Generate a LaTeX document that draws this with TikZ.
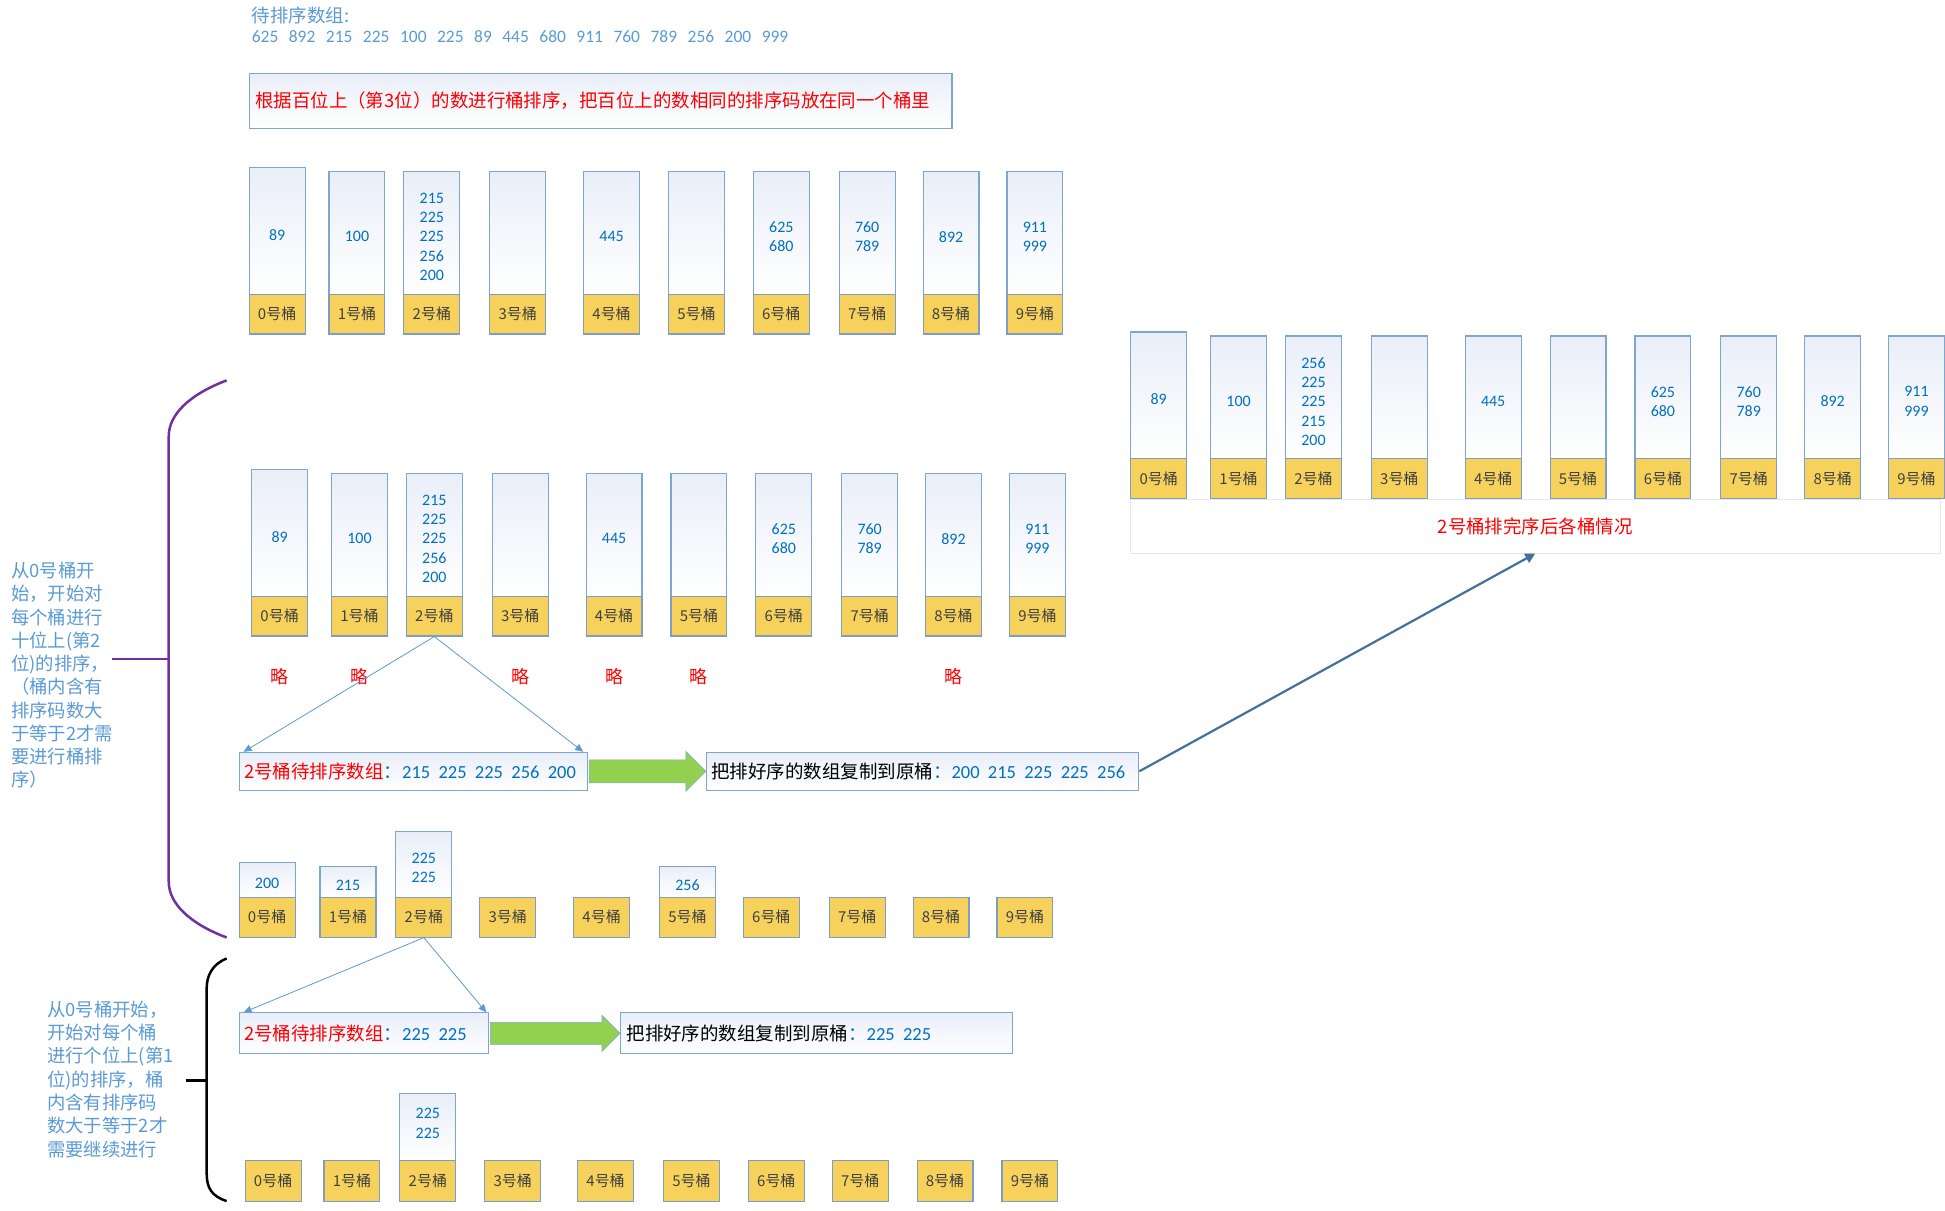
\documentclass[tikz,border=0pt]{standalone}
\usepackage{fontspec}
\setmainfont{Noto Sans CJK SC}
\newfontfamily\numfont{Carlito}
\usetikzlibrary{arrows.meta,calc}

\definecolor{edgeblue}{HTML}{7EA6D3}
\definecolor{labeledge}{HTML}{7F9CC4}
\definecolor{bodytop}{HTML}{E9EEF8}
\definecolor{numblue}{HTML}{0070C0}
\definecolor{noteblue}{HTML}{5B9BD5}
\definecolor{bucketyellow}{HTML}{F6D25C}
\definecolor{labelgray}{HTML}{404040}
\definecolor{arrowgreen}{HTML}{92D050}
\definecolor{darkarrow}{HTML}{41719C}
\definecolor{bracepurple}{HTML}{7030A0}
\definecolor{captionedge}{HTML}{E3E7EF}

\newcommand{\gap}{\hspace{0.45em}}
% one row of ten buckets after the hundreds pass, #1 = name prefix, #2 = bucket 2
\newcommand{\hundredsrow}[2]{%
  \foreach \i/\x/\yt/\txt in {0/249/167/89, 1/329/171/100, 2/404/171/{#2},
      3/490/171/{}, 4/584/171/445, 5/669/171/{}, 6/754/171/{625\\680},
      7/840/171/{760\\789}, 8/924/171/892, 9/1008/171/{911\\999}} {
    \node[bucketbody, minimum height={294-\yt}] (#1b\i) at (\x,\yt) {};
    \node[numbers] (#1n\i) at ($(#1b\i.center)+(0,4)$) {\txt};
    \node[bucketlabel] (#1y\i) at (\x,294) {\i{}号桶};
  }}

\begin{document}
\begin{tikzpicture}[x=1pt, y=-1pt,
  bucketbody/.style={draw=edgeblue, line width=1.1, top color=bodytop, bottom color=white,
    minimum width=56, inner sep=0, anchor=north west},
  numbers/.style={inner sep=0, align=center, text=numblue,
    font=\numfont\fontsize{16}{19.3}\selectfont},
  bucketlabel/.style={draw=labeledge, line width=1.1, fill=bucketyellow, minimum width=56,
    minimum height=40, inner sep=0, anchor=north west, text=labelgray,
    font=\fontsize{15}{18}\selectfont},
  boxed/.style={draw=edgeblue, line width=1.1, top color=bodytop, bottom color=white,
    anchor=north west, inner xsep=5, inner ysep=0, align=left,
    font=\fontsize{18.5}{22}\selectfont},
  note/.style={anchor=west, align=left, inner sep=0, text=noteblue,
    font=\fontsize{18.4}{23.3}\selectfont},
  fan/.style={noteblue, line width=0.8, -{Triangle[width=7pt,length=8pt]}},
  skip/.style={text=red, font=\fontsize{18}{20}\selectfont}]
\fill[white] (0,0) rectangle (1945,1212);

% input
\node[note, font=\fontsize{18.5}{22}\selectfont] (title) at (252,15) {待排序数组:};
\node[note, font=\numfont\fontsize{17.5}{20}\selectfont] (input) at (252,37)
  {625\hspace{0.6em}892\hspace{0.6em}215\hspace{0.6em}225\hspace{0.6em}100\hspace{0.6em}225\hspace{0.6em}89\hspace{0.6em}445\hspace{0.6em}680\hspace{0.6em}911\hspace{0.6em}760\hspace{0.6em}789\hspace{0.6em}256\hspace{0.6em}200\hspace{0.6em}999};
\node[boxed, text width=692, minimum height=55, inner xsep=6, text=red] (rule) at (249,73)
  {根据百位上（第3位）的数进行桶排序，把百位上的数相同的排序码放在同一个桶里};

% hundreds pass
\hundredsrow{h}{215\\225\\225\\256\\200}
\begin{scope}[shift={(2.5,302.5)}]
\hundredsrow{t}{215\\225\\225\\256\\200}
\end{scope}
\begin{scope}[shift={(883,165)}]
\hundredsrow{s}{256\\225\\225\\215\\200}
\end{scope}
\node[draw=captionedge, fill=white, minimum width=811, minimum height=54, inner sep=0,
  anchor=north west, text=red, font=\fontsize{18.5}{22}\selectfont] (result) at (1132,500)
  {2号桶排完序后各桶情况};

% skipped buckets
\foreach \i in {0,1,3,4,5,8}
  \node[skip] (skip\i) at ($(ty\i.south)+(0,40)$) {略};

% tens pass on bucket 2
\node[boxed, text width=339, minimum height=38] (tensin) at (239,753)
  {\textcolor{red}{2号桶待排序数组}\textcolor{numblue}{：\numfont 215\gap 225\gap 225\gap 256\gap 200}};
\node[boxed, text width=423, minimum height=38] (tensout) at (707,753)
  {把排好序的数组复制到原桶\textcolor{numblue}{：\numfont 200\gap 215\gap 225\gap 225\gap 256}};
\draw[fan] (ty2.south) -- ([xshift=5pt]tensin.north west);
\draw[fan] (ty2.south) -- ([xshift=-5pt]tensin.north east);
\filldraw[fill=arrowgreen, draw=edgeblue, line width=0.6]
  ($(tensin.east)+(1,-11.5)$) -- ($(tensout.west)+(-20,-11.5)$) -- ($(tensout.west)+(-20,-20)$)
  -- (tensout.west) -- ($(tensout.west)+(-20,20)$) -- ($(tensout.west)+(-20,11.5)$)
  -- ($(tensin.east)+(1,11.5)$) -- cycle;
\draw[darkarrow, line width=2.2, -{Triangle[width=10pt,length=10pt]}] (tensout.east) -- (result.south);

% buckets after the tens pass
\foreach \i/\x/\yt/\txt in {0/239/863/200, 1/320/867/215, 2/396/832/{225\\225}, 5/660/867/256} {
  \node[bucketbody, minimum height={898-\yt}] (ub\i) at (\x,\yt) {};
  \node[numbers] (un\i) at ($(ub\i.center)+(0,4)$) {\txt};
}
\foreach \x [count=\i from 0] in {239,320,396,480,574,660,744,830,914,998}
  \node[bucketlabel] (uy\i) at (\x,898) {\i{}号桶};

% ones pass on bucket 2
\node[boxed, text width=240, minimum height=41] (onesin) at (239,1014)
  {\textcolor{red}{2号桶待排序数组}\textcolor{numblue}{：\numfont 225\gap 225}};
\node[boxed, text width=381, minimum height=41, inner xsep=6] (onesout) at (621,1014)
  {把排好序的数组复制到原桶\textcolor{numblue}{：\numfont 225\gap 225}};
\draw[fan] (uy2.south) -- ([xshift=5pt]onesin.north west);
\draw[fan] (uy2.south) -- ([xshift=-3pt]onesin.north east);
\filldraw[fill=arrowgreen, draw=edgeblue, line width=0.6]
  ($(onesin.east)+(1,-11)$) -- ($(onesout.west)+(-18,-11)$) -- ($(onesout.west)+(-18,-18)$)
  -- (onesout.west) -- ($(onesout.west)+(-18,18)$) -- ($(onesout.west)+(-18,11)$)
  -- ($(onesin.east)+(1,11)$) -- cycle;

% buckets after the ones pass
\node[bucketbody, minimum height=67] (vb2) at (400,1095) {};
\node[numbers] (vn2) at ($(vb2.center)+(0,-4)$) {225\\225};
\foreach \x [count=\i from 0] in {245,324,400,485,578,664,749,833,918,1003}
  \node[bucketlabel, minimum height=41] (vy\i) at (\x,1162) {\i{}号桶};

% braces and notes
\draw[bracepurple, line width=2.5] (227,381) .. controls (190,395) and (169,415) .. (169,437)
  -- (169,883) .. controls (169,905) and (190,925) .. (227,939);
\draw[bracepurple, line width=2.5] (112,660) -- (169,660);
\node[note] (tensnote) at (11,676.5) {从0号桶开\\始，开始对\\每个桶进行\\十位上(第2\\位)的排序，\\（桶内含有\\排序码数大\\于等于2才需\\要进行桶排\\序）};
\draw[black, line width=2.5] (227,960) .. controls (212,966) and (207,978) .. (207,990)
  -- (207,1175) .. controls (207,1190) and (212,1198) .. (227,1203);
\draw[black, line width=2.5] (186,1082) -- (207,1082);
\node[note] (onesnote) at (47,1081) {从0号桶开始，\\开始对每个桶\\进行个位上(第1\\位)的排序，桶\\内含有排序码\\数大于等于2才\\需要继续进行};
\end{tikzpicture}
\end{document}
